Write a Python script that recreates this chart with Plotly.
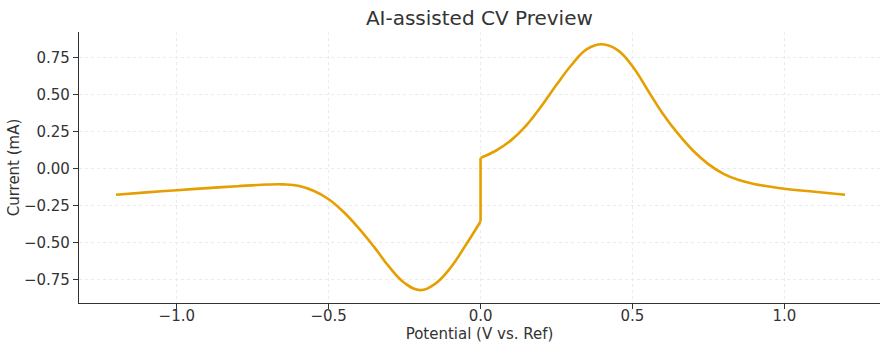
import plotly.graph_objects as go

# Cathodic branch (negative potentials)
x_neg = [-1.20, -1.10, -1.00, -0.90, -0.80, -0.70, -0.65, -0.60, -0.55, -0.50,
         -0.45, -0.40, -0.35, -0.30, -0.25, -0.20, -0.15, -0.10, -0.05, 0.00]
i_neg = [-0.177, -0.161, -0.146, -0.132, -0.119, -0.108, -0.107, -0.116, -0.150, -0.207,
         -0.295, -0.405, -0.53, -0.665, -0.772, -0.82, -0.778, -0.672, -0.52, -0.357]

# Anodic branch (positive potentials)
x_pos = [0.00, 0.05, 0.10, 0.15, 0.20, 0.25, 0.30, 0.35, 0.40, 0.45, 0.50,
         0.55, 0.60, 0.65, 0.70, 0.75, 0.80, 0.85, 0.90, 0.95, 1.00, 1.10, 1.20]
i_pos = [0.072, 0.120, 0.19, 0.29, 0.42, 0.565, 0.70, 0.805, 0.838, 0.80, 0.69,
         0.53, 0.37, 0.235, 0.12, 0.030, -0.036, -0.078, -0.104, -0.121, -0.136, -0.157, -0.177]

x_ticks = [-1.0, -0.5, 0.0, 0.5, 1.0]
y_ticks = [-0.75, -0.50, -0.25, 0.00, 0.25, 0.50, 0.75]

color = "#E69F00"
txt = "#333333"
font = "DejaVu Sans"

fig = go.Figure()
fig.add_trace(go.Scatter(x=x_neg, y=i_neg, mode="lines",
                         line=dict(color=color, width=2.6, shape="spline", smoothing=1.2),
                         showlegend=False))
fig.add_trace(go.Scatter(x=[x_neg[-1], x_pos[0]], y=[i_neg[-1], i_pos[0]], mode="lines",
                         line=dict(color=color, width=2.6), showlegend=False))
fig.add_trace(go.Scatter(x=x_pos, y=i_pos, mode="lines",
                         line=dict(color=color, width=2.6, shape="spline", smoothing=1.2),
                         showlegend=False))

axis_common = dict(
    showline=True, linecolor=txt, linewidth=1.3, mirror=False,
    ticks="outside", ticklen=5, tickwidth=1.2, tickcolor=txt,
    showgrid=True, gridcolor="#ebebeb", gridwidth=0.8, griddash="3px,3px",
    zeroline=False, automargin=False, tickfont=dict(family=font, size=15, color=txt),
)

fig.update_layout(
    width=891, height=351,
    margin=dict(l=79, r=11, t=32, b=48),
    paper_bgcolor="white", plot_bgcolor="white",
    title=dict(text="AI-assisted CV Preview", x=0.538, xanchor="center", y=0.95, yanchor="middle",
               font=dict(family=font, size=20, color=txt)),
    xaxis=dict(range=[-1.322, 1.315], tickvals=x_ticks, tickformat=".1f",
               title=dict(text="Potential (V vs. Ref)", font=dict(family=font, size=15, color=txt), standoff=0),
               **axis_common),
    yaxis=dict(range=[-0.907, 0.921], tickvals=y_ticks, tickformat=".2f",
               title=dict(text="Current (mA)", font=dict(family=font, size=15, color=txt), standoff=0),
               **axis_common),
)
fig.update_xaxes(ticklabelstandoff=-6)

fig.write_html("out.html")
